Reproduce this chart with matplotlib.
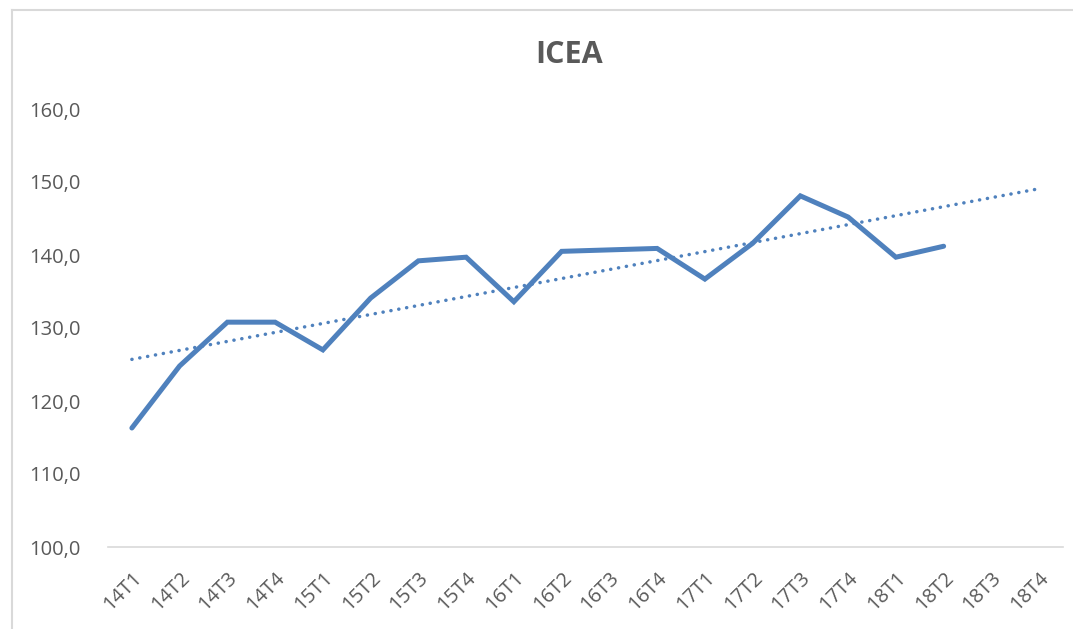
import numpy as np
import matplotlib
matplotlib.use("Agg")
import matplotlib.pyplot as plt
from matplotlib.lines import Line2D

categories = ["14T1", "14T2", "14T3", "14T4", "15T1", "15T2", "15T3", "15T4",
              "16T1", "16T2", "16T3", "16T4", "17T1", "17T2", "17T3", "17T4",
              "18T1", "18T2", "18T3", "18T4"]
icea = [116.3, 124.8, 130.8, 130.8, 127.0, 134.1, 139.2, 139.7,
        133.6, 140.5, 140.7, 140.9, 136.7, 141.6, 148.1, 145.2,
        139.7, 141.2]
yticks = [100, 110, 120, 130, 140, 150, 160]

plt.rcParams['font.family'] = ['Open Sans', 'DejaVu Sans']
gray = '#595959'
blue = '#4F81BD'

fig = plt.figure(figsize=(10.73, 6.29), dpi=100)
ax = fig.add_axes([108/1073, 1-547/629, (1063-108)/1073, (547-109)/629])

x = np.arange(len(icea))
ax.plot(x, icea, color=blue, lw=3.6, solid_joinstyle='miter', solid_capstyle='round', zorder=3)

# linear trendline, forecast forward to last category
coef = np.polyfit(x, icea, 1)
xt = np.arange(len(categories))
ax.plot(xt, np.polyval(coef, xt), color=blue, lw=2.5,
        linestyle=(0, (0.05, 2.25)), dash_capstyle='round', zorder=2)

ax.set_xlim(-0.5, len(categories) - 0.5)
ax.set_ylim(100, 160)
ax.set_yticks(yticks)
ax.set_yticklabels([f"{v:.1f}".replace('.', ',') for v in yticks], color=gray, fontsize=14.5)
ax.set_xticks(xt)
ax.set_xticklabels(categories, rotation=45, ha='right', rotation_mode='anchor',
                   color=gray, fontsize=14.5)
ax.tick_params(axis='both', length=0)
ax.tick_params(axis='y', pad=20)
ax.tick_params(axis='x', pad=15)
for s in ['top', 'right', 'left']:
    ax.spines[s].set_visible(False)
ax.spines['bottom'].set_color('#d9d9d9')
ax.spines['bottom'].set_linewidth(1.2)

fig.text(569/1073, 1-55/629, "ICEA", ha='center', va='center', fontsize=22,
         fontweight='bold', color=gray)

# chart border
fig.add_artist(Line2D([12/1073, 12/1073], [0, 1-10/629], transform=fig.transFigure,
                      color='#d9d9d9', lw=1.5))
fig.add_artist(Line2D([12/1073, 1], [1-10/629, 1-10/629], transform=fig.transFigure,
                      color='#d9d9d9', lw=1.5))

fig.savefig("out.png", dpi=100)
